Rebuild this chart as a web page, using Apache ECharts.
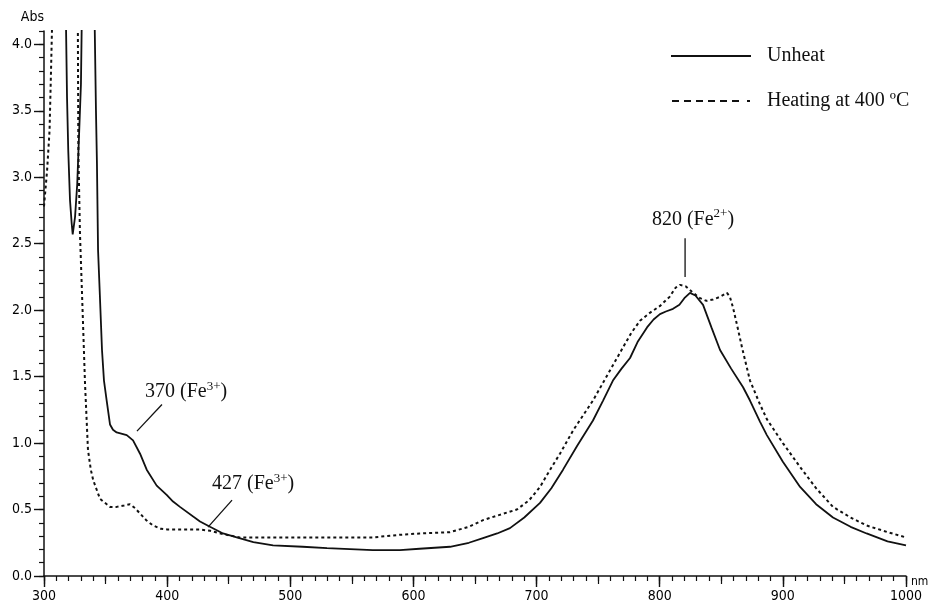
<!DOCTYPE html>
<html>
<head>
<meta charset="utf-8">
<script src="https://cdn.jsdelivr.net/npm/echarts@6/dist/echarts.min.js"></script>
<style>html,body{margin:0;padding:0;background:#fff;}#c{width:933px;height:605px;}</style>
</head>
<body>
<div id="c"></div>
<script>
// ---- data (wavelength nm, absorbance) ----
const unheat = [
  [300, 5], [316.5, 5], [317.9, 4.12], [318.7, 3.6], [319.7, 3.2], [321.1, 2.83], [322.5, 2.65], [323.3, 2.57],
  [325.2, 2.7], [327, 2.95], [328.4, 3.3], [330, 3.7], [330.6, 4.12], [332, 5], [339.5, 5],
  [341.2, 4.12], [342.2, 3.5], [343, 3.1], [343.9, 2.45], [345.5, 2.08], [347.1, 1.70], [348.7, 1.47],
  [350.9, 1.32], [353.6, 1.14], [356, 1.10], [359, 1.08], [367.2, 1.06], [372.3, 1.02], [378, 0.92],
  [383.4, 0.80], [391.5, 0.68], [399.6, 0.61], [404.8, 0.56], [410.4, 0.52], [426.7, 0.41], [434.8, 0.37],
  [445.4, 0.32], [456.5, 0.29], [470, 0.255], [486, 0.23], [510, 0.22], [529.8, 0.21], [567, 0.195], [589, 0.195],
  [605, 0.205], [629.7, 0.22], [645, 0.25], [656.5, 0.285], [668, 0.32], [678.4, 0.36], [690, 0.44], [702.8, 0.55],
  [712, 0.66], [721.5, 0.80], [733, 0.98], [745.8, 1.17], [754, 1.32], [762, 1.47], [769, 1.56], [775.9, 1.64],
  [782, 1.76], [789.7, 1.87], [795, 1.93], [800.2, 1.97], [805, 1.99], [810.8, 2.01], [816, 2.04], [820, 2.09],
  [824.6, 2.13], [829, 2.11], [835.2, 2.04], [842, 1.87], [849, 1.70], [858, 1.56], [867.7, 1.42], [873.3, 1.32],
  [881.5, 1.16], [887, 1.06], [900, 0.86], [914, 0.67], [927, 0.54], [940.7, 0.44], [955, 0.37], [968, 0.32],
  [985, 0.26], [1000, 0.23]
];
const heated = [
  [300, 2.78], [302.5, 3.05], [304.5, 3.35], [305.7, 3.8], [306.5, 4.12], [308, 5], [325, 5],
  [327.5, 4.12], [327.9, 3.2], [329.2, 2.58], [331.4, 1.98], [333.3, 1.45], [335.7, 0.95], [338, 0.8],
  [340, 0.72], [345.5, 0.58], [353.6, 0.52], [359, 0.52], [365, 0.53], [369.8, 0.54], [374, 0.51], [378, 0.47],
  [383, 0.42], [388.5, 0.38], [395, 0.355], [400, 0.35], [415, 0.35], [426.7, 0.35], [435, 0.34], [445.4, 0.315],
  [459, 0.29], [485, 0.29], [513.6, 0.29], [540, 0.29], [567, 0.29], [589, 0.31], [605, 0.32], [629.7, 0.33],
  [645, 0.37], [656.5, 0.42], [670, 0.46], [684, 0.50], [694, 0.57], [702.8, 0.67], [711, 0.80], [719, 0.92],
  [730, 1.10], [745.8, 1.32], [758, 1.52], [770.2, 1.72], [777, 1.83], [784, 1.92], [792, 1.98], [800, 2.03],
  [808, 2.10], [813, 2.17], [816.5, 2.19], [821, 2.18], [826, 2.14], [832.7, 2.09], [838, 2.07], [843.3, 2.08],
  [849, 2.10], [854.6, 2.13], [857, 2.10], [859.5, 2.02], [863, 1.88], [866.8, 1.72], [873.3, 1.47], [881.5, 1.29],
  [887, 1.18], [900, 1.00], [914, 0.82], [927, 0.66], [940.7, 0.52], [955, 0.44], [968, 0.38], [985, 0.33],
  [1000, 0.29]
];
const seriesNames = ['Unheat', 'Heating at 400 \u00baC'];
const yMajorTicks = [0, 0.5, 1.0, 1.5, 2.0, 2.5, 3.0, 3.5, 4.0];
const annotations = [
  { label: '370', ion: 'Fe', charge: '3+', textAt: [382, 1.39], lineFrom: [375.5, 1.09], lineTo: [395.8, 1.29] },
  { label: '427', ion: 'Fe', charge: '3+', textAt: [436.4, 0.70], lineFrom: [433.2, 0.368], lineTo: [452.7, 0.571] },
  { label: '820', ion: 'Fe', charge: '2+', textAt: [793.7, 2.69], lineFrom: [820.6, 2.25], lineTo: [820.6, 2.54] }
];

const tickFont = "'Liberation Sans Narrow', 'DejaVu Sans Condensed', 'Arial Narrow', sans-serif";
const serifFont = "'Liberation Serif', 'Times New Roman', serif";

// legend glyphs (solid bar; dashed bars ending with a dot)
const solidIcon = 'path://M0,0H80V2H0Z';
const dashedIcon = 'path://M0,0H7V2H0Z M12,0H19V2H12Z M24,0H31V2H24Z M36,0H43V2H36Z M48,0H55V2H48Z M60,0H67V2H60Z M75,0H78V2H75Z';

const chart = echarts.init(document.getElementById('c'), null, { renderer: 'canvas' });

const xBase = { type: 'value', min: 300, max: 1000, gridIndex: 0, position: 'bottom', splitLine: { show: false } };
const yBase = { type: 'value', min: 0, max: 4.1, gridIndex: 0, position: 'left', splitLine: { show: false } };

chart.setOption({
  animation: false,
  backgroundColor: '#fff',
  grid: { left: 44, right: 27, top: 31, bottom: 29, containLabel: false },
  legend: {
    orient: 'vertical',
    left: 666,
    top: 40,
    itemWidth: 80,
    itemHeight: 2,
    itemGap: 23,
    textStyle: { fontFamily: serifFont, fontSize: 20, color: '#111', padding: [0, 0, 0, 11], lineHeight: 22 },
    data: [
      { name: seriesNames[0], icon: solidIcon, itemStyle: { color: '#111', borderWidth: 0 } },
      { name: seriesNames[1], icon: dashedIcon, itemStyle: { color: '#111', borderWidth: 0 } }
    ]
  },
  xAxis: [
    Object.assign({}, xBase, {
      interval: 10,
      name: 'nm', nameLocation: 'end', nameGap: 5,
      nameTextStyle: { fontFamily: tickFont, fontSize: 12, color: '#000', verticalAlign: 'top', padding: [0, 0, 0, 0] },
      axisLine: { show: true, lineStyle: { color: '#111', width: 1.5 } },
      axisTick: { show: true, length: 5, inside: false, lineStyle: { color: '#111', width: 1.2 } },
      axisLabel: { show: false }
    }),
    Object.assign({}, xBase, {
      interval: 50,
      axisLine: { show: false },
      axisTick: { show: true, length: 8, inside: false, lineStyle: { color: '#111', width: 1.2 } },
      axisLabel: { show: false }
    }),
    Object.assign({}, xBase, {
      interval: 100,
      axisLine: { show: false },
      axisTick: { show: true, length: 11, inside: false, lineStyle: { color: '#111', width: 1.4 } },
      axisLabel: { show: true, margin: 13, fontFamily: tickFont, fontSize: 14, color: '#000',
        formatter: v => String(Math.round(v)) }
    })
  ],
  yAxis: [
    Object.assign({}, yBase, {
      interval: 0.1,
      name: 'Abs', nameLocation: 'end', nameGap: 7,
      nameTextStyle: { fontFamily: tickFont, fontSize: 14, color: '#000', align: 'right', padding: [0, 0, 0, 0] },
      axisLine: { show: true, lineStyle: { color: '#111', width: 1.5 } },
      axisTick: { show: true, length: 5, inside: false, lineStyle: { color: '#111', width: 1.2 } },
      axisLabel: { show: false }
    }),
    Object.assign({}, yBase, {
      interval: 0.5,
      axisLine: { show: false },
      axisTick: { show: true, length: 10, inside: false, customValues: yMajorTicks, lineStyle: { color: '#111', width: 1.4 } },
      axisLabel: { show: true, margin: 12, fontFamily: tickFont, fontSize: 14, color: '#000', customValues: yMajorTicks,
        formatter: v => (Math.abs(v * 2 - Math.round(v * 2)) < 1e-6 && v <= 4.0) ? v.toFixed(1) : '' }
    })
  ],
  series: [
    {
      name: seriesNames[0], type: 'line', xAxisIndex: 0, yAxisIndex: 0, data: unheat,
      showSymbol: false, symbol: 'none', clip: true, smooth: false,
      lineStyle: { color: '#111', width: 1.8, type: 'solid' }, itemStyle: { color: '#111' }
    },
    {
      name: seriesNames[1], type: 'line', xAxisIndex: 0, yAxisIndex: 0, data: heated,
      showSymbol: false, symbol: 'none', clip: true, smooth: false,
      lineStyle: { color: '#111', width: 2, type: [3, 3] }, itemStyle: { color: '#111' }
    }
  ]
});

function px(pt) { return chart.convertToPixel({ xAxisIndex: 0, yAxisIndex: 0 }, pt); }
const graphics = [];
annotations.forEach(a => {
  const p = px(a.textAt), l1 = px(a.lineFrom), l2 = px(a.lineTo);
  graphics.push({
    type: 'line', silent: true,
    shape: { x1: l1[0], y1: l1[1], x2: l2[0], y2: l2[1] },
    style: { stroke: '#111', lineWidth: 1.3 }
  });
  graphics.push({
    type: 'text', silent: true,
    style: {
      x: p[0], y: p[1], align: 'left', verticalAlign: 'middle',
      text: '{a|' + a.label + ' (' + a.ion + '}{s|' + a.charge + '}{a|)}',
      rich: {
        a: { fontFamily: serifFont, fontSize: 20, fill: '#111', lineHeight: 22, verticalAlign: 'bottom' },
        s: { fontFamily: serifFont, fontSize: 13, fill: '#111', lineHeight: 22, verticalAlign: 'top' }
      }
    }
  });
});
chart.setOption({ graphic: graphics });
</script>
</body>
</html>
